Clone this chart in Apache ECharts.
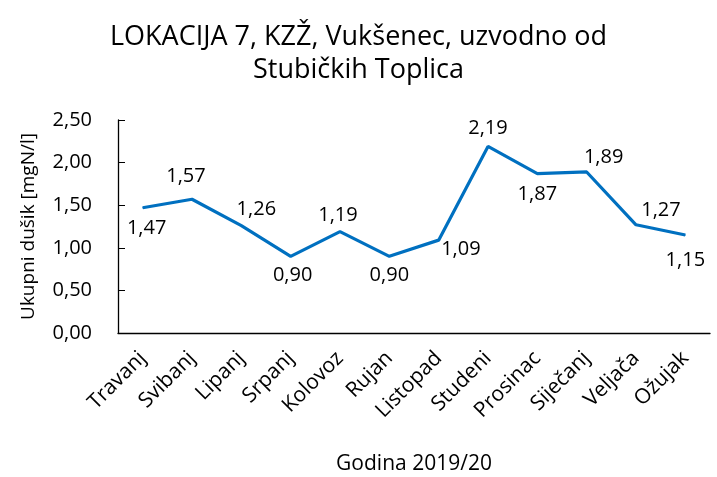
<!DOCTYPE html>
<html lang="hr">
<head>
    <meta charset="UTF-8">
    <title>LOKACIJA 7 - ukupni dušik</title>
    <script src="https://cdn.jsdelivr.net/npm/echarts/dist/echarts.min.js"></script>
    <style>
        html, body { margin: 0; padding: 0; background: #fff; }
        #chart { width: 717px; height: 477px; }
    </style>
</head>
<body>
    <div id="chart"></div>
    <script>
        var months = ['Travanj', 'Svibanj', 'Lipanj', 'Srpanj', 'Kolovoz', 'Rujan',
                      'Listopad', 'Studeni', 'Prosinac', 'Siječanj', 'Veljača', 'Ožujak'];
        var nitrogen = [1.47, 1.57, 1.26, 0.90, 1.19, 0.90, 1.09, 2.19, 1.87, 1.89, 1.27, 1.15];
        // where each value label sits relative to its point
        var labelPos = ['bottom', 'top', 'top', 'bottom', 'top', 'bottom',
                        'right', 'top', 'bottom', 'top', 'top', 'bottom'];
        var labelShift = [[4, 2], [-6, -4], [15, 2], [2, 0], [-2, 2], [0, 0],
                          [-6, 9], [0, 0], [0, 2], [17, 4], [25, 4], [0, 7]];

        var fontFam = '"Open Sans", sans-serif';
        var chart = echarts.init(document.getElementById('chart'));

        var points = nitrogen.map(function (v, i) {
            return {
                value: v,
                label: { position: labelPos[i], offset: labelShift[i] }
            };
        });

        function comma(v) { return v.toFixed(2).replace('.', ','); }

        chart.setOption({
            animation: false,
            textStyle: { fontFamily: fontFam },
            title: {
                text: 'LOKACIJA 7, KZŽ, Vukšenec, uzvodno od\nStubičkih Toplica',
                left: 'center',
                top: 16,
                textStyle: { fontSize: 27, fontWeight: 'normal', color: '#000', lineHeight: 33, fontFamily: fontFam }
            },
            grid: { left: 118, right: 7, top: 120, bottom: 144, outerBoundsMode: 'none' },
            xAxis: {
                type: 'category',
                data: months,
                boundaryGap: true,
                name: 'Godina 2019/20',
                nameLocation: 'middle',
                nameGap: 121,
                nameTextStyle: { fontSize: 21, color: '#000' },
                axisLine: { lineStyle: { color: '#000', width: 1.3 } },
                axisTick: { show: false },
                axisLabel: { rotate: 45, fontSize: 21, color: '#000', margin: 22, interval: 0 }
            },
            yAxis: {
                type: 'value',
                min: 0,
                max: 2.5,
                interval: 0.5,
                name: 'Ukupni dušik [mgN/l]',
                nameLocation: 'middle',
                nameGap: 80,
                nameTextStyle: { fontSize: 19, color: '#000' },
                axisLine: { show: true, lineStyle: { color: '#000', width: 1.3 } },
                axisTick: { show: true, inside: true, length: 7, lineStyle: { color: '#000' } },
                splitLine: { show: false },
                axisLabel: { fontSize: 20, color: '#000', margin: 26, formatter: comma }
            },
            series: [{
                type: 'line',
                data: points,
                symbol: 'circle',
                symbolSize: 1,
                showSymbol: true,
                itemStyle: { color: '#0070C0' },
                lineStyle: { color: '#0070C0', width: 3.2 },
                label: {
                    show: true,
                    fontSize: 20,
                    color: '#000',
                    distance: 8,
                    formatter: function (p) { return comma(p.value); }
                }
            }]
        });
    </script>
</body>
</html>
